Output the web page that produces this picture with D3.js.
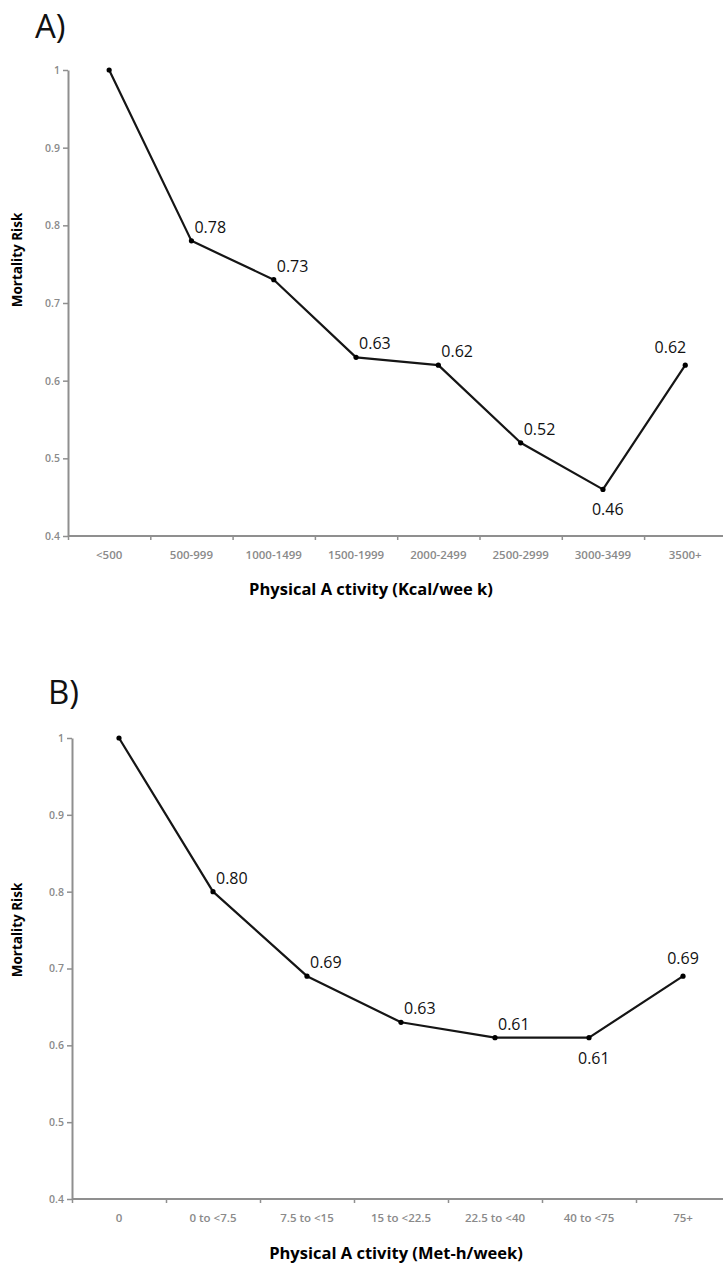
<!DOCTYPE html>
<html>
<head>
<meta charset="utf-8">
<script src="https://cdn.jsdelivr.net/npm/d3@7"></script>
<style>
  body { margin: 0; background: #fff; }
  svg { display: block; }
</style>
</head>
<body>
<div class="chart-div"></div>
<script>
'use strict';

// data
var catsA = ["<500", "500-999", "1000-1499", "1500-1999", "2000-2499", "2500-2999", "3000-3499", "3500+"];
var riskA = [1, 0.78, 0.73, 0.63, 0.62, 0.52, 0.46, 0.62];
var placeA = ["none", "ar", "ar", "ar", "ar", "ar", "b", "al"];

var catsB = ["0", "0 to <7.5", "7.5 to <15", "15 to <22.5", "22.5 to <40", "40 to <75", "75+"];
var riskB = [1, 0.80, 0.69, 0.63, 0.61, 0.61, 0.69];
var placeB = ["none", "ar", "ar", "ar", "ar", "b", "a"];

var yTicks = [0.4, 0.5, 0.6, 0.7, 0.8, 0.9, 1];

var width = 723;
var height = 1265;
var axisGray = "#8f8f8f";
var tickGray = "#8a8a8a";

var svg = d3.select(".chart-div").append("svg")
    .attr("width", width)
    .attr("height", height);

svg.append("rect").attr("width", width).attr("height", height).attr("fill", "#fff");

function drawPanel(p) {
    var g = svg.append("g");
    var n = p.cats.length;

    var x = d3.scaleBand()
        .domain(p.cats)
        .range([p.left, p.left + n * p.band])
        .padding(0);

    // boundaries between categories, for tick marks
    var xb = d3.scaleLinear()
        .domain([0, n])
        .range([p.left, p.left + n * p.band]);

    var y = d3.scaleLinear()
        .domain([0.4, 1])
        .range([p.bottom, p.top]);

    // y axis
    var yAxis = g.append("g")
        .attr("transform", "translate(" + p.left + ",0)")
        .call(d3.axisLeft(y).tickValues(yTicks).tickSize(5).tickSizeOuter(0).tickPadding(3)
            .tickFormat(d3.format(".1~f")));
    yAxis.select(".domain").attr("stroke", axisGray).attr("stroke-width", 2);
    yAxis.selectAll(".tick line").attr("stroke", axisGray).attr("stroke-width", 1.5);
    yAxis.selectAll(".tick text")
        .attr("fill", tickGray)
        .attr("font-family", "Open Sans")
        .attr("font-weight", "600")
        .attr("font-size", "10.5px");

    // x axis: boundary ticks
    var xAxis = g.append("g")
        .attr("transform", "translate(0," + p.bottom + ")")
        .call(d3.axisBottom(xb).tickValues(d3.range(n + 1)).tickSize(4).tickSizeOuter(0).tickFormat(""));
    xAxis.select(".domain").remove();
    xAxis.selectAll(".tick line").attr("stroke", axisGray).attr("stroke-width", 1.5);
    g.append("line")
        .attr("x1", p.left).attr("x2", width)
        .attr("y1", p.bottom).attr("y2", p.bottom)
        .attr("stroke", axisGray)
        .attr("stroke-width", 2);

    // x axis: category labels
    g.selectAll(".xlab")
        .data(p.cats)
        .enter().append("text")
        .attr("class", "xlab")
        .attr("x", d => x(d) + x.bandwidth() / 2)
        .attr("y", p.bottom + 23)
        .attr("text-anchor", "middle")
        .attr("fill", tickGray)
        .attr("font-family", "Open Sans")
        .attr("font-weight", "600")
        .attr("font-size", "11.5px")
        .text(d => d);

    // line + markers
    var pts = p.cats.map((c, i) => ({ cat: c, v: p.vals[i], place: p.place[i] }));
    var line = d3.line()
        .x(d => x(d.cat) + x.bandwidth() / 2)
        .y(d => y(d.v));

    g.append("path")
        .datum(pts)
        .attr("d", line)
        .attr("fill", "none")
        .attr("stroke", "#151515")
        .attr("stroke-width", 2.2)
        .attr("stroke-linejoin", "round");

    g.selectAll(".dot")
        .data(pts)
        .enter().append("circle")
        .attr("class", "dot")
        .attr("cx", d => x(d.cat) + x.bandwidth() / 2)
        .attr("cy", d => y(d.v))
        .attr("r", 2.6)
        .attr("fill", "#000");

    // value labels
    var fmt = d3.format(".2f");
    g.selectAll(".vlab")
        .data(pts.filter(d => d.place != "none"))
        .enter().append("text")
        .attr("class", "vlab")
        .attr("x", function (d) {
            var cx = x(d.cat) + x.bandwidth() / 2;
            if (d.place == "b") return cx - 11;
            if (d.place == "al") return cx + 1;
            if (d.place == "a") return cx;
            return cx + 3;
        })
        .attr("y", function (d) {
            var cy = y(d.v);
            if (d.place == "b") return cy + 26;
            if (d.place == "al" || d.place == "a") return cy - 12;
            return cy - 8;
        })
        .attr("text-anchor", d => d.place == "al" ? "end" : (d.place == "a" ? "middle" : "start"))
        .attr("fill", "#111")
        .attr("font-family", "Open Sans")
        .attr("font-size", "16px")
        .text(d => fmt(d.v));

    // panel letter
    g.append("text")
        .attr("x", p.letterX)
        .attr("y", p.letterY)
        .attr("fill", "#111")
        .attr("font-family", "Open Sans")
        .attr("font-size", "33px")
        .text(p.letter);

    // y title
    g.append("text")
        .attr("transform", "translate(22," + p.yTitleY + ") rotate(-90)")
        .attr("text-anchor", "middle")
        .attr("fill", "#000")
        .attr("font-family", "Open Sans")
        .attr("font-weight", "bold")
        .attr("font-size", "13.5px")
        .text("Mortality Risk");

    // x title
    g.append("text")
        .attr("x", p.xTitleX)
        .attr("y", p.xTitleY)
        .attr("text-anchor", "middle")
        .attr("fill", "#000")
        .attr("font-family", "Open Sans")
        .attr("font-weight", "bold")
        .attr("font-size", "16.5px")
        .text(p.xTitle);
}

drawPanel({
    cats: catsA, vals: riskA, place: placeA,
    left: 68, band: 82.3, top: 70, bottom: 536,
    letter: "A)", letterX: 35, letterY: 38,
    yTitleY: 260,
    xTitle: "Physical A ctivity (Kcal/wee k)", xTitleX: 371, xTitleY: 595
});

drawPanel({
    cats: catsB, vals: riskB, place: placeB,
    left: 72, band: 94, top: 738, bottom: 1199,
    letter: "B)", letterX: 48, letterY: 704,
    yTitleY: 930,
    xTitle: "Physical A ctivity (Met-h/week)", xTitleX: 396, xTitleY: 1259
});
</script>
</body>
</html>
